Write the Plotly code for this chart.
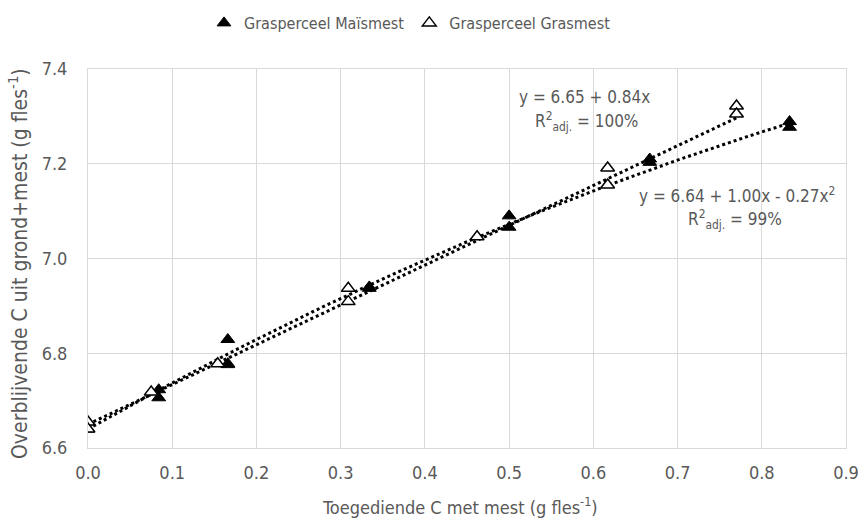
import numpy as np
import plotly.graph_objects as go

# Data
mais_x = [0.0, 0.0, 0.084, 0.084, 0.166, 0.166, 0.166, 0.334, 0.334, 0.50, 0.50, 0.667, 0.667, 0.833, 0.833]
mais_y = [6.655, 6.64, 6.723, 6.706, 6.829, 6.778, 6.776, 6.940, 6.937, 7.090, 7.066, 7.210, 7.203, 7.289, 7.277]
gras_x = [0.0, 0.0, 0.075, 0.154, 0.309, 0.309, 0.462, 0.617, 0.617, 0.770, 0.770]
gras_y = [6.655, 6.640, 6.718, 6.778, 6.937, 6.909, 7.046, 7.191, 7.155, 7.322, 7.305]

# Trendline coefficients (as printed on the chart)
mais_coef = [6.64, 1.00, -0.27]
gras_coef = [6.65, 0.84]

x_ticks = [0.0, 0.1, 0.2, 0.3, 0.4, 0.5, 0.6, 0.7, 0.8, 0.9]
y_ticks = [6.6, 6.8, 7.0, 7.2, 7.4]

FONT = "DejaVu Sans Condensed, Liberation Sans Narrow, Liberation Sans, sans-serif"
GRAY = "#595959"

L, R, T, B = 88, 12, 69, 71
W, H = 858, 519
pw, ph = W - L - R, H - T - B
def px(xp): return (xp - L) / pw
def py(yp): return (H - B - yp) / ph

fig = go.Figure()

xm = np.linspace(min(mais_x), max(mais_x), 100)
ym = mais_coef[0] + mais_coef[1] * xm + mais_coef[2] * xm ** 2
xg = np.linspace(min(gras_x), max(gras_x), 100)
yg = gras_coef[0] + gras_coef[1] * xg

fig.add_trace(go.Scatter(x=xm, y=ym, mode="lines", line=dict(color="black", width=3, dash="dot"),
                         showlegend=False, hoverinfo="skip"))
fig.add_trace(go.Scatter(x=xg, y=yg, mode="lines", line=dict(color="black", width=3, dash="dot"),
                         showlegend=False, hoverinfo="skip"))

fig.add_trace(go.Scatter(x=mais_x, y=mais_y, mode="markers", name="Grasperceel Maïsmest",
                         marker=dict(symbol="triangle-up", size=12, color="black",
                                     line=dict(color="black", width=1))))
fig.add_trace(go.Scatter(x=gras_x, y=gras_y, mode="markers", name="Grasperceel Grasmest",
                         marker=dict(symbol="triangle-up", size=12, color="white",
                                     line=dict(color="black", width=1.5))))

ann_font = dict(family=FONT, size=17, color=GRAY)
texts = ["y = 6.65 + 0.84x", "R<sup>2</sup><sub>adj.</sub> = 100%",
         "y = 6.64 + 1.00x - 0.27x<sup>2</sup>", "R<sup>2</sup><sub>adj.</sub> = 99%"]
pos = [(584, 97), (586, 121), (737, 195), (735, 220)]
for t, (ax, ay) in zip(texts, pos):
    fig.add_annotation(x=px(ax), y=py(ay), xref="paper", yref="paper", text=t,
                       xanchor="center", yanchor="middle", showarrow=False, font=ann_font)

# axis titles
fig.add_annotation(x=px(460), y=py(506), xref="paper", yref="paper",
                   text="Toegediende C met mest (g fles<sup>-1</sup>)", xanchor="center", yanchor="middle",
                   showarrow=False, font=dict(family=FONT, size=18, color=GRAY))
fig.add_annotation(x=px(18), y=py(264), xref="paper", yref="paper",
                   text="Overblijvende C uit grond+mest (g fles<sup>-1</sup>)", textangle=-90,
                   xanchor="center", yanchor="middle",
                   showarrow=False, font=dict(family=FONT, size=21, color=GRAY))

fig.update_layout(
    width=W, height=H,
    margin=dict(l=L, r=R, t=T, b=B, autoexpand=False),
    paper_bgcolor="white", plot_bgcolor="white",
    font=dict(family=FONT, color=GRAY, size=15),
    legend=dict(orientation="h", x=px(410), xanchor="center", y=1 - 6 / H, yref="container",
                yanchor="top", font=dict(family=FONT, size=16, color=GRAY), itemwidth=30),
    xaxis=dict(range=[0, 0.9], tickvals=x_ticks, tickformat=".1f", showgrid=True,
               gridcolor="#d9d9d9", gridwidth=1, zeroline=False, showline=True, linecolor="#d9d9d9",
               mirror=True, ticks="", tickfont=dict(size=18, color=GRAY), automargin=False,
               ticklabeloverflow="allow", ticklabelstandoff=8),
    yaxis=dict(range=[6.6, 7.4], tickvals=y_ticks, tickformat=".1f", showgrid=True,
               gridcolor="#d9d9d9", gridwidth=1, zeroline=False, showline=True, linecolor="#d9d9d9",
               mirror=True, ticks="", tickfont=dict(size=18, color=GRAY), automargin=False,
               ticklabelstandoff=16),
)

fig.write_html("out.html")
